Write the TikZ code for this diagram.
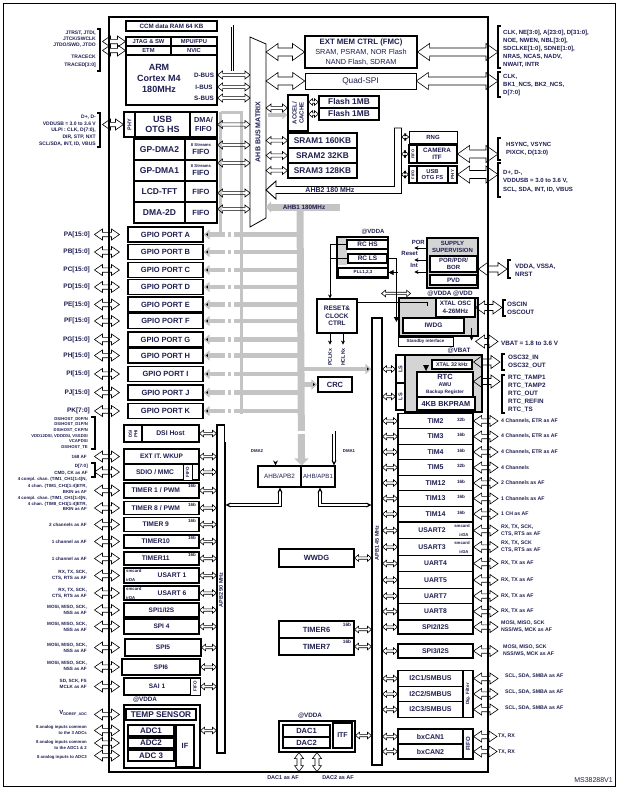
\documentclass[tikz,border=0pt]{standalone}
\usepackage{fontspec}
\setmainfont{Liberation Sans}
\usetikzlibrary{arrows.meta,positioning,calc}
\definecolor{txt}{RGB}{30,30,82}
\definecolor{busgray}{RGB}{196,196,196}
\tikzset{
  sz/.style 2 args={minimum width=#1, minimum height=#2},
  fs/.style 2 args={font=\bfseries\fontsize{#1}{#2}\selectfont},
  fm/.style 2 args={font=\mdseries\fontsize{#1}{#2}\selectfont},
  blk/.style={draw, line width=1.1pt, fill=white, inner sep=0pt, text=txt, align=center, fs={6.8}{7.5}},
  tblk/.style={blk, line width=0.6pt},
  hatchbox/.style={draw, line width=1.1pt, fill=black!17, inner sep=0pt},
  txtn/.style={inner sep=0pt, text=txt, align=center},
  lbl/.style={inner sep=0pt, text=txt, align=right, anchor=east, fs={4.6}{6}},
  rlbl/.style={inner sep=0pt, text=txt, align=left, anchor=west, fs={5.2}{7}},
  brk/.style={line width=1.1pt},
  hb/.style n args={3}{draw=black, line width=0.6pt, fill=white,
    to path={let \p1=(\tikztostart), \p2=(\tikztotarget) in
      (\x1,\y1) -- (\x1+#1,\y1+#2) -- (\x1+#1,\y1+#3) -- (\x2-#1,\y1+#3) -- (\x2-#1,\y1+#2) -- (\x2,\y1)
      -- (\x2-#1,\y1-#2) -- (\x2-#1,\y1-#3) -- (\x1+#1,\y1-#3) -- (\x1+#1,\y1-#2) -- cycle}},
  vb/.style n args={3}{draw=black, line width=0.6pt, fill=white,
    to path={let \p1=(\tikztostart), \p2=(\tikztotarget) in
      (\x1,\y1) -- (\x1+#2,\y1-#1) -- (\x1+#3,\y1-#1) -- (\x1+#3,\y2+#1) -- (\x1+#2,\y2+#1) -- (\x1,\y2)
      -- (\x1-#2,\y2+#1) -- (\x1-#3,\y2+#1) -- (\x1-#3,\y1-#1) -- (\x1-#2,\y1-#1) -- cycle}},
  hbL/.style={hb={12pt}{8.5pt}{4pt}},
  hbB/.style={hb={9pt}{6.5pt}{3pt}},
  hbA/.style={hb={8pt}{5.5pt}{2.2pt}},
  hbM/.style={hb={5pt}{4pt}{1.6pt}},
  hbS/.style={hb={4pt}{3.3pt}{1.2pt}},
  vbA/.style={vb={6pt}{4.5pt}{2pt}},
  gbar/.style={draw=busgray, line width=7pt},
  garr/.style={draw=busgray, line width=4.5pt, -{Triangle[length=6pt,width=10pt]}},
  dmaln/.style={draw=black, line width=0.7pt, double=white, double distance=2.4pt},
  sarr/.style={line width=0.8pt, -{Stealth[length=4pt,width=4pt]}},
}
\begin{document}
\begin{tikzpicture}[x=1pt,y=-1pt]
\useasboundingbox (0,0) rectangle (622,790);
\draw[line width=0.6pt] (3,3) rectangle (615,786);
\draw[line width=1.5pt] (109,17) rectangle (488,772);
\coordinate (mtxw) at (250,132);
\coordinate (mtxe) at (266,132);
\coordinate (ahb1) at (300,207);

\node (ccm) [blk, sz={91pt}{10pt}, fs={6.2}{7}] at (171.5,26) {CCM data RAM 64 KB};
\node (arm) [blk, sz={91pt}{50pt}] at (171.5,80) {};
\node (jtag) [blk, sz={45pt}{9pt}, fs={5.8}{6}] at (148.5,41.5) {JTAG \& SW};
\node (mpu) [blk, sz={46pt}{9pt}, fs={5.8}{6}] at (194,41.5) {MPU/FPU};
\node (etm) [blk, sz={45pt}{9pt}, fs={5.8}{6}] at (148.5,50.5) {ETM};
\node (nvic) [blk, sz={46pt}{9pt}, fs={5.8}{6}] at (194,50.5) {NVIC};
\node (core) [txtn, fs={9}{11}] at (159,78) {ARM\\Cortex M4\\180MHz};
\node (dbus) [txtn, fs={6.3}{7}] at (204,75) {D-BUS};
\node (ibus) [txtn, fs={6.3}{7}] at (204,87) {I-BUS};
\node (sbus) [txtn, fs={6.3}{7}] at (204,98) {S-BUS};

\node (hsphy) [blk, sz={11pt}{25pt}] at (129.5,124.5) {};
\node [txtn, rotate=90, fs={5.5}{6}] at (hsphy) {PHY};
\node (usbhs) [blk, sz={55pt}{25pt}, fs={9}{10}] at (162.5,124.5) {USB\\OTG HS};
\node (hsfifo) [blk, sz={27pt}{25pt}, fs={7.3}{8.5}] at (203.5,124.5) {DMA/\\FIFO};
\node (gpdma2) [blk, sz={51pt}{21pt}, fs={8.5}{9}] at (159.5,149.5) {GP-DMA2};
\node (gpdma2f) [blk, sz={32pt}{21pt}, fs={7.5}{8}] at (201,149.5) {{\fontsize{4.2}{5}\selectfont 8 Streams}\\FIFO};
\node (gpdma1) [blk, sz={51pt}{21pt}, fs={8.5}{9}] at (159.5,170.5) {GP-DMA1};
\node (gpdma1f) [blk, sz={32pt}{21pt}, fs={7.5}{8}] at (201,170.5) {{\fontsize{4.2}{5}\selectfont 8 Streams}\\FIFO};
\node (lcd) [blk, sz={51pt}{21pt}, fs={8.5}{9}] at (159.5,191.5) {LCD-TFT};
\node (lcdf) [blk, sz={32pt}{21pt}, fs={7.5}{8}] at (201,191.5) {FIFO};
\node (dma2d) [blk, sz={51pt}{21pt}, fs={8.5}{9}] at (159.5,212.5) {DMA-2D};
\node (dma2df) [blk, sz={32pt}{21pt}, fs={7.5}{8}] at (201,212.5) {FIFO};

\draw[line width=0.8pt, fill=white] (250,37) -- (266,44) -- (266,218) -- (250,227) -- cycle;
\node (mtx) [txtn, rotate=90, fs={7}{8}] at (258,132) {AHB BUS MATRIX};

\node (fmc) [blk, sz={112pt}{32pt}, fs={7.8}{10}] at (361,52) {EXT MEM CTRL (FMC)\\{\mdseries\fontsize{7.3}{10}\selectfont SRAM, PSRAM, NOR Flash}\\{\mdseries\fontsize{7.3}{10}\selectfont NAND Flash, SDRAM}};
\node (qspi) [tblk, sz={111pt}{16pt}, fm={8.3}{9}] at (360.5,81) {Quad-SPI};
\node (accel) [blk, sz={20pt}{36pt}] at (298,113) {};
\node [txtn, rotate=90, fs={6}{7}] at (accel) {ACCEL/\\CACHE};
\node (flash1) [blk, sz={60pt}{12pt}, fs={8.3}{9}] at (349,102) {Flash 1MB};
\node (flash2) [blk, sz={60pt}{12pt}, fs={8.3}{9}] at (349,114) {Flash 1MB};
\node (sram1) [blk, sz={69pt}{15pt}, fs={8.3}{9}] at (322.5,140.5) {SRAM1 160KB};
\node (sram2) [blk, sz={69pt}{15pt}, fs={8.3}{9}] at (322.5,155.5) {SRAM2 32KB};
\node (sram3) [blk, sz={69pt}{15pt}, fs={8.3}{9}] at (322.5,170.5) {SRAM3 128KB};

\node (rng) [tblk, sz={48pt}{12pt}, fs={6}{7}] at (433,137) {RNG};
\node (camf) [blk, sz={8pt}{18pt}] at (413,154) {};
\node [txtn, rotate=90, fs={4}{4}] at (camf) {FIFO};
\node (cam) [blk, sz={40pt}{18pt}, fs={6.3}{7}] at (437,154) {CAMERA\\ITF};
\node (fsfifo) [blk, sz={8pt}{17pt}] at (413,174.5) {};
\node [txtn, rotate=90, fs={4}{4}] at (fsfifo) {FIFO};
\node (usbfs) [blk, sz={31pt}{17pt}, fs={5.8}{6.5}] at (432.5,174.5) {USB\\OTG FS};
\node (fsphy) [blk, sz={9pt}{17pt}] at (452.5,174.5) {};
\node [txtn, rotate=90, fs={4.5}{5}] at (fsphy) {PHY};
\draw[line width=0.9pt, fill=white] (266,190) -- (276,181) -- (276,186.5) -- (394.5,186.5) -- (394.5,128) -- (401.5,128) -- (401.5,193.5) -- (276,193.5) -- (276,199) -- cycle;
\node [txtn, fs={7}{7}] at (330,190) {AHB2 180 MHz};

\node (gpa) [blk, sz={75pt}{15pt}, fs={7.5}{8}] at (165.5,234.5) {GPIO PORT A};
\node (gpb) [blk, sz={75pt}{15pt}, fs={7.5}{8}] at (165.5,252) {GPIO PORT B};
\node (gpc) [blk, sz={75pt}{15pt}, fs={7.5}{8}] at (165.5,270) {GPIO PORT C};
\node (gpd) [blk, sz={75pt}{15pt}, fs={7.5}{8}] at (165.5,287) {GPIO PORT D};
\node (gpe) [blk, sz={75pt}{15pt}, fs={7.5}{8}] at (165.5,304.5) {GPIO PORT E};
\node (gpf) [blk, sz={75pt}{15pt}, fs={7.5}{8}] at (165.5,321) {GPIO PORT F};
\node (gpg) [blk, sz={75pt}{15pt}, fs={7.5}{8}] at (165.5,339.5) {GPIO PORT G};
\node (gph) [blk, sz={75pt}{15pt}, fs={7.5}{8}] at (165.5,355.5) {GPIO PORT H};
\node (gpi) [blk, sz={75pt}{15pt}, fs={7.5}{8}] at (165.5,374) {GPIO PORT I};
\node (gpj) [blk, sz={75pt}{15pt}, fs={7.5}{8}] at (165.5,392.5) {GPIO PORT J};
\node (gpk) [blk, sz={75pt}{15pt}, fs={7.5}{8}] at (165.5,411) {GPIO PORT K};

\node [txtn, fs={6}{7}] at (373,232) {@VDDA};
\node (rcblk) [blk, sz={51pt}{41pt}] at (362.5,257.5) {};
\fill[black!17] (338,238) rectangle (347,265);
\node (rchs) [blk, sz={41pt}{9pt}, fs={6.5}{7}] at (367.5,244.5) {RC HS};
\node (rcls) [blk, sz={39pt}{9pt}, fs={6.5}{7}] at (367.5,258.5) {RC LS};
\node (pll) [blk, sz={50pt}{9pt}, fs={4.5}{5}] at (363,272.5) {PLL1,2,3};
\node (rcc) [blk, sz={40pt}{34pt}, fs={6.5}{7.5}] at (337,316) {RESET\&\\CLOCK\\CTRL};
\node (crc) [blk, sz={34pt}{15pt}, fs={7.5}{8}] at (335,384.5) {CRC};
\node [txtn, rotate=90, fs={5.3}{6}] at (330,357) {PCLKx};
\node [txtn, rotate=90, fs={5.3}{6}] at (343,357) {HCLKx};

\node (sup) [hatchbox, sz={51pt}{50pt}] at (452.5,263) {};
\node [txtn, fs={6}{7.5}] at (452.5,247) {SUPPLY\\SUPERVISION};
\node (por) [blk, sz={47pt}{16pt}, fs={6}{6.5}] at (453.5,264) {POR/PDR/\\BOR};
\node (pvd) [blk, sz={47pt}{10pt}, fs={6.3}{7}] at (453.5,280) {PVD};
\node (porlbl) [txtn, anchor=east, fs={6}{7}] at (425,242) {POR};
\node (rstlbl) [txtn, anchor=east, fs={6}{7}] at (418,253) {Reset};
\node (intlbl) [txtn, anchor=east, fs={6}{7}] at (418,265.5) {Int};
\node [txtn, fs={6.3}{7}] at (450,294) {@VDDA @VDD};
\node (oscblk) [hatchbox, sz={79pt}{38pt}] at (438.5,317) {};
\node (xtal) [blk, sz={39pt}{19pt}, fs={6.3}{8}] at (455.5,307.5) {XTAL OSC\\4-26MHz};
\node (iwdg) [blk, sz={61pt}{15pt}, fs={6.5}{7}] at (433.5,325.5) {IWDG};
\node (stby) [tblk, sz={55pt}{9pt}, fs={4.5}{5}] at (425.5,341.5) {Standby interface};
\node [txtn, fs={6.3}{7}] at (459,351) {@VBAT};

\node (rtcblk) [hatchbox, sz={77pt}{57pt}] at (443.5,383.5) {};
\node (xtal32) [blk, sz={40pt}{9pt}, fs={5.3}{6}] at (452,364.5) {XTAL 32 kHz};
\node (rtc) [blk, sz={56pt}{25pt}] at (445,384.5) {};
\node [txtn, fs={7.5}{8}] at (445,377) {RTC};
\node [txtn, fs={5.5}{6}] at (445,385) {AWU};
\node [txtn, fs={4.8}{5}] at (445,392.5) {Backup Register};
\node (bkp) [blk, sz={58pt}{13pt}, fs={7.3}{8}] at (446,403.5) {4KB BKPRAM};
\fill (423,365) -- (429,365) -- (426,371) -- cycle;
\node (ls1) [blk, sz={9pt}{28pt}] at (400.5,369) {};
\node [txtn, rotate=90, fs={5.5}{6}] at (ls1) {LS};
\node (ls2) [blk, sz={9pt}{27pt}] at (400.5,396.5) {};
\node [txtn, rotate=90, fs={5.5}{6}] at (ls2) {LS};

\node (apb1) [blk, sz={10pt}{447pt}] at (377,541.5) {};
\node [txtn, rotate=90, fs={5.5}{6}] at (377,543) {APB1 45 MHz};
\node (apb2) [blk, sz={8pt}{328pt}] at (221,589) {};
\node [txtn, rotate=90, fs={5.5}{6}] at (221,590) {APB2 90 MHz};
\node (apb2br) [blk, sz={43pt}{21pt}, fm={6.3}{7}] at (279.5,476.5) {AHB/APB2};
\node (apb1br) [blk, sz={34pt}{21pt}, fm={6.1}{7}] at (318,476.5) {AHB/APB1};
\node [txtn, fs={4.3}{5}] at (257,451) {DMA2};
\node [txtn, fs={4.3}{5}] at (349,451) {DMA1};

\node (dsiphy) [blk, sz={18pt}{17pt}] at (133,433.5) {};
\node [txtn, rotate=90, fs={4.5}{5.5}] at (dsiphy) {DSI\\PHI};
\node (dsi) [blk, sz={57pt}{17pt}, fs={6.8}{7}] at (170.5,433.5) {DSI Host};
\node (extit) [blk, sz={75pt}{15pt}, fs={6.5}{7}] at (161.5,456.5) {EXT IT. WKUP};
\node (sdio) [blk, sz={75pt}{16pt}] at (161.5,472) {};
\node [txtn, fs={6.7}{7}] at (155,472) {SDIO / MMC};
\node (sdiof) [tblk, sz={9pt}{16pt}] at (187.5,472) {};
\node [txtn, rotate=90, fs={4.5}{5}] at (sdiof) {FIFO};
\node (tim1) [blk, sz={75pt}{15pt}, fs={6.7}{7}] at (161.5,490.5) {TIMER 1 / PWM\phantom{16b}};
\node (tim8) [blk, sz={75pt}{13pt}, fs={6.7}{7}] at (161.5,508) {TIMER 8 / PWM\phantom{16b}};
\node (tim9) [blk, sz={75pt}{14pt}, fs={6.7}{7}] at (161.5,524.5) {TIMER 9\phantom{16b}};
\node (tim10) [blk, sz={75pt}{13pt}, fs={6.7}{7}] at (161.5,541.5) {TIMER10\phantom{16b}};
\node (tim11) [blk, sz={75pt}{13pt}, fs={6.7}{7}] at (161.5,558.5) {TIMER11\phantom{16b}};
\node [txtn, fs={4.5}{5}] at (192,486) {16b};
\node [txtn, fs={4.5}{5}] at (192,504.5) {16b};
\node [txtn, fs={4.5}{5}] at (192,520.5) {16b};
\node [txtn, fs={4.5}{5}] at (192,538) {16b};
\node [txtn, fs={4.5}{5}] at (192,555) {16b};
\node (usart1) [blk, sz={75pt}{15pt}] at (161.5,575.5) {};
\node [txtn, fs={6.7}{7}] at (172,575.5) {USART 1};
\node [txtn, anchor=west, fs={4.3}{5}] at (126,571) {smcard};
\node [txtn, anchor=west, fs={4.3}{5}] at (126,580) {irDA};
\node (usart6) [blk, sz={75pt}{14pt}] at (161.5,593) {};
\node [txtn, fs={6.7}{7}] at (172,593) {USART 6};
\node [txtn, anchor=west, fs={4.3}{5}] at (126,589) {smcard};
\node [txtn, anchor=west, fs={4.3}{5}] at (126,597.5) {irDA};
\node (spi1) [blk, sz={75pt}{14pt}, fs={6.5}{7}] at (161.5,610) {SPI1/I2S};
\node (spi4) [blk, sz={75pt}{15pt}, fs={6.5}{7}] at (161.5,626.5) {SPI 4};
\node (spi5) [blk, sz={76pt}{17pt}, fs={6.5}{7}] at (163,647.5) {SPI5};
\node (spi6) [blk, sz={78pt}{16pt}, fs={6.5}{7}] at (161,667) {SPI6};
\node (sai) [blk, sz={76pt}{17pt}] at (162,686.5) {};
\node [txtn, fs={6.5}{7}] at (157,686.5) {SAI 1};
\node (saif) [tblk, sz={10pt}{17pt}] at (195,686.5) {};
\node [txtn, rotate=90, fs={4.5}{5}] at (saif) {FIFO};
\node [txtn, fs={6.3}{7}] at (145,700) {@VDDA};
\node (adcblk) [blk, sz={76pt}{63pt}] at (162,736.5) {};
\node (temp) [blk, sz={70pt}{11pt}, fs={8.3}{9}] at (161,714.5) {TEMP SENSOR};
\node (adc1) [blk, sz={46pt}{11pt}, fs={8}{9}] at (151,730.5) {ADC1};
\node (adc2) [blk, sz={46pt}{10pt}, fs={8}{9}] at (151,743) {ADC2};
\node (adc3) [blk, sz={46pt}{11pt}, fs={8}{9}] at (151,755.5) {ADC 3};
\node (adcif) [blk, sz={18pt}{42pt}, fs={7.5}{8}] at (185,746) {IF};

\node (tim2) [blk, sz={75pt}{15.5pt}, fs={7}{7}] at (435.5,421) {TIM2};
\node (tim3) [blk, sz={75pt}{15.5pt}, fs={7}{7}] at (435.5,436.5) {TIM3};
\node (tim4) [blk, sz={75pt}{15.5pt}, fs={7}{7}] at (435.5,452) {TIM4};
\node (tim5) [blk, sz={75pt}{15.5pt}, fs={7}{7}] at (435.5,467.5) {TIM5};
\node (tim12) [blk, sz={75pt}{15.5pt}, fs={7}{7}] at (435.5,483) {TIM12};
\node (tim13) [blk, sz={75pt}{15.5pt}, fs={7}{7}] at (435.5,498.5) {TIM13};
\node (tim14) [blk, sz={75pt}{15.5pt}, fs={7}{7}] at (435.5,514) {TIM14};
\node [txtn, fs={4.6}{5}] at (461,419.5) {32b};
\node [txtn, fs={4.6}{5}] at (461,435) {16b};
\node [txtn, fs={4.6}{5}] at (461,450.5) {16b};
\node [txtn, fs={4.6}{5}] at (461,466) {32b};
\node [txtn, fs={4.6}{5}] at (461,481.5) {16b};
\node [txtn, fs={4.6}{5}] at (461,497) {16b};
\node [txtn, fs={4.6}{5}] at (461,512.5) {16b};
\node (usart2) [blk, sz={75pt}{16.5pt}] at (435.5,530.5) {};
\node [txtn, fs={6.8}{7}] at (432,530.5) {USART2};
\node [txtn, fs={4.3}{5}] at (462,526) {smcard};
\node [txtn, fs={4.3}{5}] at (464,535) {irDA};
\node (usart3) [blk, sz={75pt}{16.5pt}] at (435.5,547) {};
\node [txtn, fs={6.8}{7}] at (432,547) {USART3};
\node [txtn, fs={4.3}{5}] at (462,542.5) {smcard};
\node [txtn, fs={4.3}{5}] at (464,551.5) {irDA};
\node (uart4) [blk, sz={75pt}{16.5pt}, fs={6.8}{7}] at (435.5,563.5) {UART4};
\node (uart5) [blk, sz={75pt}{16.5pt}, fs={6.8}{7}] at (435.5,580) {UART5};
\node (uart7) [blk, sz={75pt}{15.5pt}, fs={6.8}{7}] at (435.5,596) {UART7};
\node (uart8) [blk, sz={75pt}{15.5pt}, fs={6.8}{7}] at (435.5,611.5) {UART8};
\node (spi2) [blk, sz={75pt}{14pt}, fs={6.8}{7}] at (435.5,627) {SPI2/I2S};
\node (spi3) [blk, sz={75pt}{14pt}, fs={6.8}{7}] at (435.5,651) {SPI3/I2S};
\node (i2c1) [blk, sz={65pt}{15.5pt}, fs={7}{7}] at (430.5,678.5) {I2C1/SMBUS};
\node (i2c2) [blk, sz={65pt}{15.5pt}, fs={7}{7}] at (430.5,694) {I2C2/SMBUS};
\node (i2c3) [blk, sz={65pt}{15.5pt}, fs={7}{7}] at (430.5,709.5) {I2C3/SMBUS};
\node (digf) [blk, sz={10pt}{47pt}] at (468,694) {};
\node [txtn, rotate=90, fs={4.6}{5}] at (digf) {Dig. Filter};
\node (can1) [blk, sz={65pt}{15pt}, fs={7}{7}] at (430.5,736.5) {bxCAN1};
\node (can2) [blk, sz={65pt}{15pt}, fs={7}{7}] at (430.5,751.5) {bxCAN2};
\node (canf) [blk, sz={10pt}{30pt}] at (468,744) {};
\node [txtn, rotate=90, fs={6}{6}] at (canf) {FIFO};

\node (wwdg) [blk, sz={75pt}{18pt}, fs={7.5}{8}] at (316.5,558) {WWDG};
\node (tim6) [blk, sz={75pt}{17pt}, fs={7.5}{8}] at (316.5,629.5) {TIMER6};
\node (tim7) [blk, sz={75pt}{17pt}, fs={7.5}{8}] at (316.5,646.5) {TIMER7};
\node [txtn, fs={4.8}{5}] at (347,624.5) {16b};
\node [txtn, fs={4.8}{5}] at (347,641.5) {16b};
\node [txtn, fs={6.3}{7}] at (310,716) {@VDDA};
\node (dacblk) [blk, sz={76pt}{31pt}] at (317,736.5) {};
\node (dac1) [blk, sz={47pt}{12pt}, fs={7.5}{8}] at (306.5,731) {DAC1};
\node (dac2) [blk, sz={47pt}{11pt}, fs={7.5}{8}] at (306.5,742.5) {DAC2};
\node (itf) [blk, sz={19pt}{25pt}, fs={7}{8}] at (342.5,735.5) {ITF};
\node (dac1l) [txtn, fs={5.5}{6}] at (283,778) {DAC1 as AF};
\node (dac2l) [txtn, fs={5.5}{6}] at (338,778) {DAC2 as AF};
\node [txtn, anchor=east, fm={7}{8}] at (613,780) {MS38288V1};

\draw[gbar, -{Triangle[length=5pt,width=11pt]}] ($(ahb1)+(40,0)$) -- (mtxe |- ahb1);
\draw[gbar, -{Triangle[length=7pt,width=14pt]}] (ahb1) -- (apb2br.north east);
\node [txtn, fs={6.3}{7}] at (304,207) {AHB1 180MHz};
\path [garr] (ahb1 |- gpa) edge (gpa.east) (ahb1 |- gpb) edge (gpb.east) (ahb1 |- gpc) edge (gpc.east)
  (ahb1 |- gpd) edge (gpd.east) (ahb1 |- gpe) edge (gpe.east) (ahb1 |- gpf) edge (gpf.east)
  (ahb1 |- gpg) edge (gpg.east) (ahb1 |- gph) edge (gph.east) (ahb1 |- gpi) edge (gpi.east)
  (ahb1 |- gpj) edge (gpj.east) (ahb1 |- gpk) edge (gpk.east)
  (ahb1 |- crc) edge (crc.west) (ahb1 |- ls1) edge (apb1.west |- ls1);
\draw[busgray, line width=3.5pt] ($(hsfifo.north east)+(3,1)$) -- ++(0,120);
\draw[busgray, line width=3.5pt] ($(hsfifo.north east)+(3,1)$) -- ++(21,0) -- ++(0,302);
\draw[busgray, line width=3.5pt, -{Triangle[length=5pt,width=8pt]}] ($(mtxe)+(2,-17)$) -- ($(accel.west)+(0,2)$);

\draw[dmaln, double distance=1.3pt] (ccm.east) -| ($(arm.east |- dbus)+(15,-4)$);
\draw[dmaln, -{Stealth[length=5pt,width=5pt]}] ($(gpdma2f.east)+(9,-4.5)$) |- ($(apb2br.north)+(-4,-25)$) -- ($(apb2br.north)+(-4,0)$);
\draw[dmaln, -{Stealth[length=5pt,width=5pt]}] ($(gpdma1f.east)+(15,-7.5)$) |- ($(apb1br.north)+(16,-33)$) -- ($(apb1br.north)+(16,0)$);
\draw[dmaln, {Stealth[length=5pt,width=5pt]}-{Stealth[length=5pt,width=5pt]}] ($(apb2br.south)+(0.5,0)$) |- ($(apb2.east)+(0,-84)$);
\draw[dmaln, {Stealth[length=5pt,width=5pt]}-{Stealth[length=5pt,width=5pt]}] ($(apb1br.south)+(2,0)$) |- ($(apb1.west)+(0,-36.5)$);

\coordinate (rcx) at ($(rcc.north)+(-7,0)$);
\draw[sarr] (rchs.west) -| (rcx);
\draw[line width=0.8pt] (rcls.west) -- (rcls.west -| rcx);
\draw[line width=0.8pt, -{Triangle[length=5pt,width=5pt]}] (rcls.east) -| ($(iwdg.west)+(-6,-3.5)$);
\draw[line width=0.8pt, -{Triangle[length=5pt,width=5pt]}] ($(pll.east)+(9,0)$) -- (pll.east);
\draw[line width=0.8pt] ($(rcc.north east)+(0,4)$) -| ($(xtal.west)+(-8,-2)$);
\draw[sarr] ($(rcc.south)+(-7,0)$) -- ++(0,11);
\draw[sarr] ($(rcc.south)+(6,0)$) -- ++(0,11);
\draw[sarr] ($(sup.west)+(0,-15)$) -- ++(-12,0);
\draw[sarr] ($(sup.west)+(0,-3)$) -- ++(-12,0);
\draw[sarr] ($(sup.west)+(0,9)$) -- ++(-12,0);
\draw[sarr] ($(iwdg.east)+(7,2)$) -- ++(0,13);
\path [hbS] ($(rcc.north east)+(24,-5)$) edge ($(rcc.north east)+(53,-5)$);

\node (jtl) [lbl, fs={5}{6}] at (96,39) {JTRST, JTDI,\\JTCK/SWCLK\\JTDO/SWD, JTDO};
\node (trl) [lbl, fs={5}{8}] at (96,61) {TRACECK\\TRACED[3:0]};
\draw[brk] (97,29) -- (100,29) -- (100,71) -- (97,71);
\node (usbhsl) [lbl, fs={5}{6.7}] at (96,130.5) {D+, D-\\VDDUSB = 3.0 to 3.6 V\\ULPI : CLK, D(7:0),\\DIR, STP, NXT\\SCL/SDA, INT, ID, VBUS};
\draw[brk] (97,113) -- (100,113) -- (100,147) -- (97,147);
\node (pa) [lbl, fs={6.5}{7}] at (90,234.5) {PA[15:0]};
\node (pb) [lbl, fs={6.5}{7}] at (90,252) {PB[15:0]};
\node (pc) [lbl, fs={6.5}{7}] at (90,270) {PC[15:0]};
\node (pd) [lbl, fs={6.5}{7}] at (90,287) {PD[15:0]};
\node (pe) [lbl, fs={6.5}{7}] at (90,304.5) {PE[15:0]};
\node (pf) [lbl, fs={6.5}{7}] at (90,321) {PF[15:0]};
\node (pg) [lbl, fs={6.5}{7}] at (90,339.5) {PG[15:0]};
\node (ph) [lbl, fs={6.5}{7}] at (90,355.5) {PH[15:0]};
\node (pi) [lbl, fs={6.5}{7}] at (90,374) {PI[15:0]};
\node (pj) [lbl, fs={6.5}{7}] at (90,392.5) {PJ[15:0]};
\node (pk) [lbl, fs={6.5}{7}] at (90,411) {PK[7:0]};
\node (dsil) [lbl, fs={4.2}{5.6}] at (88,433) {DSIHOST\_D0P/N\\DSIHOST\_D1P/N\\DSIHOST\_CKP/N\\VDD12DSI, VDDDSI, VSSDSI\\VCAPDSI\\DSIHOST\_TE};
\draw[brk] (91,417) -- (95,417) -- (95,449) -- (91,449);
\node (extitl) [lbl] at (87,456.5) {168 AF};
\node (sdiol) [lbl, fs={4.6}{7}] at (88,470) {D[7:0]\\CMD, CK as AF};
\draw[brk] (91,463) -- (95,463) -- (95,477) -- (91,477);
\node (tim1l) [lbl, fs={4.4}{6.5}] at (87,485.5) {4 compl. chan. (TIM1\_CH1[1:4]N,\\4 chan. (TIM1\_CH1[1:4]ETR,\\BKIN as AF};
\node (tim8l) [lbl, fs={4.4}{5.5}] at (87,503.5) {4 compl. chan. (TIM1\_CH1[1:4]N,\\4 chan. (TIM8\_CH1[1:4]ETR,\\BKIN as AF};
\node (tim9l) [lbl] at (87,524.5) {2 channels as AF};
\node (tim10l) [lbl] at (87,541.5) {1 channel as AF};
\node (tim11l) [lbl] at (87,558.5) {1 channel as AF};
\node (usart1l) [lbl] at (87,575.5) {RX, TX, SCK,\\CTS, RTS as AF};
\node (usart6l) [lbl] at (87,593) {RX, TX, SCK,\\CTS, RTS as AF};
\node (spi1l) [lbl] at (87,610) {MOSI, MISO, SCK,\\NSS as AF};
\node (spi4l) [lbl] at (87,626.5) {MOSI, MISO, SCK,\\NSS as AF};
\node (spi5l) [lbl] at (87,647.5) {MOSI, MISO, SCK,\\NSS as AF};
\node (spi6l) [lbl] at (87,665.5) {MOSI, MISO, SCK,\\NSS as AF};
\node (sail) [lbl] at (87,684) {SD, SCK, FS\\MCLK as AF};
\node (vrefl) [lbl, fs={6}{7}] at (87,713) {V{\fontsize{3.8}{4}\selectfont\raisebox{-1.2pt}{DDREF\_ADC}}};
\node (a1l) [lbl, fs={4.3}{6}] at (87,730) {8 analog inputs common\\to the 3 ADCs};
\node (a2l) [lbl, fs={4.3}{6}] at (87,745) {8 analog inputs common\\to the ADC1 \& 2};
\node (a3l) [lbl, fs={4.3}{6}] at (87,757) {8 analog inputs to ADC3};

\node (fmcl) [rlbl, fs={6}{8}] at (503,49) {CLK, NE[3:0], A[23:0], D[31:0],\\NOE, NWEN, NBL[3:0],\\SDCLKE[1:0], SDNE[1:0],\\NRAS, NCAS, NADV,\\NWAIT, INTR};
\node (qspil) [rlbl, fs={6}{8}] at (503,85) {CLK,\\BK1\_NCS, BK2\_NCS,\\D[7:0]};
\node (caml) [rlbl, fs={6}{8}] at (506,149) {HSYNC, VSYNC\\PIXCK, D(13:0)};
\node (usbfsl) [rlbl, fs={6}{8.5}] at (503,181) {D+, D-,\\VDDUSB = 3.0 to 3.6 V,\\SCL, SDA, INT, ID, VBUS};
\draw[brk] (501,26) -- (498,26) -- (498,68) -- (501,68);
\draw[brk] (501,72) -- (498,72) -- (498,97) -- (501,97);
\draw[brk] (501,138) -- (498,138) -- (498,160) -- (501,160);
\draw[brk] (501,163) -- (498,163) -- (498,197) -- (501,197);
\node (porl) [rlbl, fs={6.3}{8}] at (515,270) {VDDA, VSSA,\\NRST};
\draw[brk] (511,260) -- (508,260) -- (508,278) -- (511,278);
\node (oscl) [rlbl, fs={6.3}{8}] at (507,308) {OSCIN\\OSCOUT};
\draw[brk] (506,300) -- (503,300) -- (503,316) -- (506,316);
\node (vbatl) [rlbl, fs={6.3}{8}] at (501,343) {VBAT = 1.8 to 3.6 V};
\node (osc32l) [rlbl, fs={6.3}{8}] at (508,362) {OSC32\_IN\\OSC32\_OUT};
\draw[brk] (505,354) -- (502,354) -- (502,370) -- (505,370);
\node (rtcl) [rlbl, fs={6.3}{8}] at (508,394) {RTC\_TAMP1\\RTC\_TAMP2\\RTC\_OUT\\RTC\_REFIN\\RTC\_TS};
\draw[brk] (505,375) -- (502,375) -- (502,413) -- (505,413);
\node (tim2l) [rlbl] at (501,421) {4 Channels, ETR as AF};
\node (tim3l) [rlbl] at (501,436.5) {4 Channels, ETR as AF};
\node (tim4l) [rlbl] at (501,452) {4 Channels, ETR as AF};
\node (tim5l) [rlbl] at (501,467.5) {4 Channels};
\node (tim12l) [rlbl] at (501,483) {2 Channels  as AF};
\node (tim13l) [rlbl] at (501,498.5) {1 Channels as AF};
\node (tim14l) [rlbl] at (501,514) {1 CH as AF};
\node (usart2l) [rlbl] at (501,530.5) {RX, TX, SCK,\\CTS, RTS as AF};
\node (usart3l) [rlbl] at (501,547) {RX, TX, SCK\\CTS, RTS as AF};
\node (uart4l) [rlbl] at (501,563.5) {RX, TX as AF};
\node (uart5l) [rlbl] at (501,580) {RX, TX as AF};
\node (uart7l) [rlbl] at (501,596) {RX, TX as AF};
\node (uart8l) [rlbl] at (501,611.5) {RX, TX as AF};
\node (spi2l) [rlbl] at (501,627) {MOSI, MISO, SCK\\NSS/WS, MCK as AF};
\node (spi3l) [rlbl] at (503,651) {MOSI, MISO, SCK\\NSS/WS, MCK as AF};
\node (i2c1l) [rlbl] at (505,676) {SCL, SDA, SMBA as AF};
\node (i2c2l) [rlbl] at (505,692.5) {SCL, SDA, SMBA as AF};
\node (i2c3l) [rlbl] at (505,708.5) {SCL, SDA, SMBA as AF};
\node (can1l) [rlbl] at (498,736) {TX, RX};
\node (can2l) [rlbl] at (498,752) {TX, RX};

\path [hbA] ([xshift=-23pt]jtag.west) edge (jtag.west) ([xshift=-23pt]etm.west) edge (etm.west)
  ([xshift=-32pt]usbhs.west) edge ([xshift=-11pt]usbhs.west);
\path [hbM] (arm.east |- dbus) edge (mtxw) (arm.east |- ibus) edge (mtxw) (arm.east |- sbus) edge (mtxw)
  (hsfifo.east) edge (mtxw) ([yshift=4.5pt]gpdma2f.east) edge (mtxw) ([yshift=7.5pt]gpdma1f.east) edge (mtxw)
  ([yshift=-1.5pt]lcdf.east) edge (mtxw) ([yshift=3.5pt]dma2df.east) edge (mtxw)
  ($(mtxe |- accel)+(0,-5)$) edge (accel.west)
  (mtxe |- sram1) edge (sram1.west) (mtxe |- sram2) edge (sram2.west) (mtxe |- sram3) edge (sram3.west);
\path [hbL] (mtxe |- fmc) edge (fmc.west) (mtxe |- qspi) edge (qspi.west)
  (fmc.east) edge ([xshift=-5pt]fmcl.west) (qspi.east) edge ([xshift=-5pt]qspil.west)
  (cam.east) edge ([xshift=-8pt]caml.west) (fsphy.east) edge ([xshift=-5pt]usbfsl.west);
\path [hbS] (accel.east |- flash1) edge (flash1.west) (accel.east |- flash2) edge (flash2.west)
  ($(rng.west)+(-7,0)$) edge (rng.west) ($(camf.west)+(-7,0)$) edge (camf.west) ($(fsfifo.west)+(-7,0)$) edge (fsfifo.west);
\path [hbB] ($(sup.east)+(0,6)$) edge ([xshift=-8pt]porl.west) (xtal.east) edge ([xshift=-5pt]oscl.west)
  (xtal.east |- stby) edge ([xshift=-3pt]vbatl.west) (rtc.east |- osc32l) edge ([xshift=-8pt]osc32l.west)
  ($(rtc.east)+(0,-3)$) edge ([xshift=-8pt]rtcl.west);
\path [hbA] ([xshift=-33pt]gpa.west) edge ([xshift=-8pt]gpa.west) ([xshift=-33pt]gpb.west) edge ([xshift=-8pt]gpb.west)
  ([xshift=-33pt]gpc.west) edge ([xshift=-8pt]gpc.west) ([xshift=-33pt]gpd.west) edge ([xshift=-8pt]gpd.west)
  ([xshift=-33pt]gpe.west) edge ([xshift=-8pt]gpe.west) ([xshift=-33pt]gpf.west) edge ([xshift=-8pt]gpf.west)
  ([xshift=-33pt]gpg.west) edge ([xshift=-8pt]gpg.west) ([xshift=-33pt]gph.west) edge ([xshift=-8pt]gph.west)
  ([xshift=-33pt]gpi.west) edge ([xshift=-8pt]gpi.west) ([xshift=-33pt]gpj.west) edge ([xshift=-8pt]gpj.west)
  ([xshift=-33pt]gpk.west) edge ([xshift=-8pt]gpk.west);
\path [hbA] ([xshift=-29pt]extit.west) edge ([xshift=-4pt]extit.west) ([xshift=-29pt]sdio.west) edge ([xshift=-4pt]sdio.west)
  ([xshift=-29pt]tim1.west) edge ([xshift=-4pt]tim1.west) ([xshift=-29pt]tim8.west) edge ([xshift=-4pt]tim8.west)
  ([xshift=-29pt]tim9.west) edge ([xshift=-4pt]tim9.west) ([xshift=-29pt]tim10.west) edge ([xshift=-4pt]tim10.west)
  ([xshift=-29pt]tim11.west) edge ([xshift=-4pt]tim11.west) ([xshift=-29pt]usart1.west) edge ([xshift=-4pt]usart1.west)
  ([xshift=-29pt]usart6.west) edge ([xshift=-4pt]usart6.west) ([xshift=-29pt]spi1.west) edge ([xshift=-4pt]spi1.west)
  ([xshift=-29pt]spi4.west) edge ([xshift=-4pt]spi4.west) ([xshift=-30pt]spi5.west) edge ([xshift=-5pt]spi5.west)
  ([xshift=-27pt]spi6.west) edge ([xshift=-2pt]spi6.west) ([xshift=-29pt]sai.west) edge ([xshift=-4pt]sai.west)
  ([xshift=-31pt]temp.west) edge ([xshift=-6pt]temp.west) ([xshift=-33pt]adc1.west) edge ([xshift=-8pt]adc1.west)
  ([xshift=-33pt]adc2.west) edge ([xshift=-8pt]adc2.west) ([xshift=-33pt]adc3.west) edge ([xshift=-8pt]adc3.west);
\path [hbS] (dsi.east) edge (apb2.west) (extit.east) edge (apb2.west) (sdio.east) edge (apb2.west)
  (tim1.east) edge (apb2.west) (tim8.east) edge (apb2.west) (tim9.east) edge (apb2.west)
  (tim10.east) edge (apb2.west) (tim11.east) edge (apb2.west) (usart1.east) edge (apb2.west)
  (usart6.east) edge (apb2.west) (spi1.east) edge (apb2.west) (spi4.east) edge (apb2.west)
  (spi5.east) edge (apb2.west) (spi6.east) edge (apb2.west) (sai.east) edge (apb2.west)
  (adcblk.east |- adc1) edge (apb2.west);
\path [hbS] (apb1.east |- ls1) edge (ls1.west) (apb1.east |- ls2) edge (ls2.west)
  (apb1.east |- tim2) edge (tim2.west) (apb1.east |- tim3) edge (tim3.west) (apb1.east |- tim4) edge (tim4.west)
  (apb1.east |- tim5) edge (tim5.west) (apb1.east |- tim12) edge (tim12.west) (apb1.east |- tim13) edge (tim13.west)
  (apb1.east |- tim14) edge (tim14.west) (apb1.east |- usart2) edge (usart2.west) (apb1.east |- usart3) edge (usart3.west)
  (apb1.east |- uart4) edge (uart4.west) (apb1.east |- uart5) edge (uart5.west) (apb1.east |- uart7) edge (uart7.west)
  (apb1.east |- uart8) edge (uart8.west) (apb1.east |- spi2) edge (spi2.west) (apb1.east |- spi3) edge (spi3.west)
  (apb1.east |- i2c1) edge (i2c1.west) (apb1.east |- i2c2) edge (i2c2.west) (apb1.east |- i2c3) edge (i2c3.west)
  (apb1.east |- can1) edge (can1.west) (apb1.east |- can2) edge (can2.west)
  (wwdg.east) edge (apb1.west) (tim6.east) edge (apb1.west) (tim7.east) edge (apb1.west)
  (dacblk.east |- itf) edge (apb1.west);
\path [hbA] (tim2.east) edge ([xshift=-3pt]tim2l.west) (tim3.east) edge ([xshift=-3pt]tim3l.west)
  (tim4.east) edge ([xshift=-3pt]tim4l.west) (tim5.east) edge ([xshift=-3pt]tim5l.west)
  (tim12.east) edge ([xshift=-3pt]tim12l.west) (tim13.east) edge ([xshift=-3pt]tim13l.west)
  (tim14.east) edge ([xshift=-3pt]tim14l.west) (usart2.east) edge ([xshift=-3pt]usart2l.west)
  (usart3.east) edge ([xshift=-3pt]usart3l.west) (uart4.east) edge ([xshift=-3pt]uart4l.west)
  (uart5.east) edge ([xshift=-3pt]uart5l.west) (uart7.east) edge ([xshift=-3pt]uart7l.west)
  (uart8.east) edge ([xshift=-3pt]uart8l.west) (spi2.east) edge ([xshift=-3pt]spi2l.west)
  (spi3.east) edge ([xshift=-5pt]spi3l.west) (digf.east |- i2c1) edge ([xshift=-7pt]i2c1l.west)
  (digf.east |- i2c2) edge ([xshift=-7pt]i2c2l.west) (digf.east |- i2c3) edge ([xshift=-7pt]i2c3l.west)
  (canf.east |- can1) edge ([xshift=-1pt]can1l.west) (canf.east |- can2) edge ([xshift=-1pt]can2l.west);
\path [vbA] ($(dacblk.south)+(-18,0)$) edge ($(dacblk.south)+(-18,19)$) (dacblk.south) edge ($(dacblk.south)+(0,19)$);
\end{tikzpicture}
\end{document}
